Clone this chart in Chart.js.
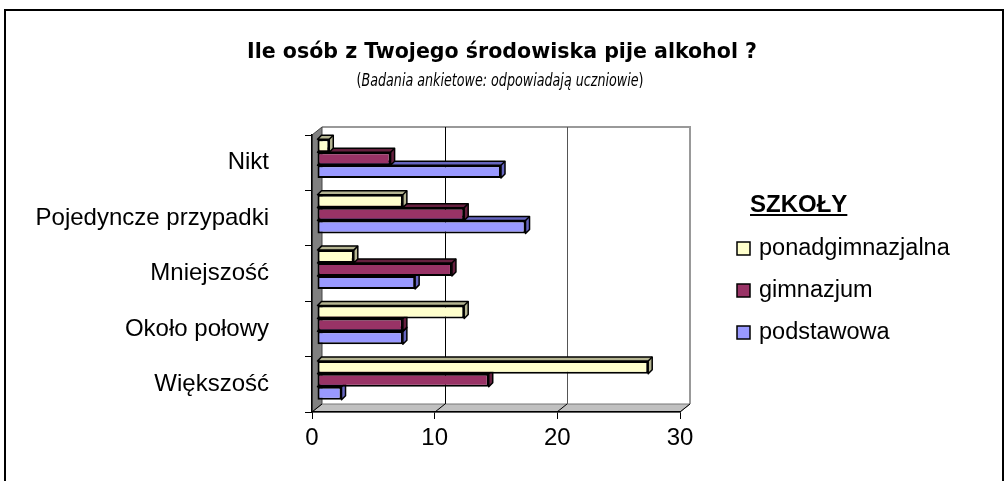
<!DOCTYPE html>
<html lang="pl">
<head>
<meta charset="utf-8">
<title>Ile osób z Twojego środowiska pije alkohol ?</title>
<script src="https://cdn.jsdelivr.net/npm/chart.js@4.4.1/dist/chart.umd.min.js"></script>
<style>
    html, body { margin: 0; padding: 0; background: #fff; overflow: hidden; }
    #wrap { position: relative; width: 1007px; height: 481px; }
</style>
</head>
<body>
<div id="wrap"><canvas id="barchart" width="1007" height="481"></canvas></div>
<script>
// 1. DANE
const categories = ['Nikt', 'Pojedyncze przypadki', 'Mniejszość', 'Około połowy', 'Większość'];
const ponadgimnazjalna = [1, 7, 3, 12, 27];
const gimnazjum = [6, 12, 11, 7, 14];
const podstawowa = [15, 17, 8, 7, 2];
const seriesNames = ['ponadgimnazjalna', 'gimnazjum', 'podstawowa'];
const xTicks = [0, 10, 20, 30];
const chartTitle = 'Ile osób z Twojego środowiska pije alkohol ?';
const chartSubtitle = 'Badania ankietowe: odpowiadają uczniowie';
const legendTitle = 'SZKOŁY';

const frontColors = ['#FFFFCC', '#993366', '#9999FF'];
const sideColors = ['#B5B592', '#66203F', '#6666C0'];
const FONT = "'Liberation Sans', Arial, sans-serif";
const DEPTH = { x: 10, y: -8 };      // back wall offset
const BAR_SHIFT = { x: 5, y: -4 };   // bars sit half way in depth
const BAR_D = 4;                      // bar thickness

// text squeezed to a given width (Tahoma look)
function fitText(ctx, parts, cx, cy, width) {
    let total = 0;
    parts.forEach(p => { ctx.font = p.font; p.w = ctx.measureText(p.text).width; total += p.w; });
    const k = width / total;
    ctx.save();
    ctx.translate(cx - width / 2, cy);
    ctx.scale(k, 1);
    let x = 0;
    parts.forEach(p => { ctx.font = p.font; ctx.fillText(p.text, x, 0); x += p.w; });
    ctx.restore();
}

document.addEventListener('DOMContentLoaded', function () {
    const canvas = document.getElementById('barchart');

    // 2. SCIANY 3D, RAMKA
    const walls3d = {
        id: 'walls3d',
        beforeDraw(chart) {
            const { ctx, chartArea: a } = chart;
            const xs = chart.scales.x;
            const dx = DEPTH.x, dy = DEPTH.y;
            ctx.save();
            // outer frame
            ctx.strokeStyle = '#000';
            ctx.lineWidth = 2;
            ctx.strokeRect(5, 10, 998, 500);

            // back wall
            ctx.fillStyle = '#fff';
            ctx.fillRect(a.left + dx, a.top + dy, a.right - a.left, a.bottom - a.top);
            ctx.strokeStyle = '#999';
            ctx.lineWidth = 2;
            ctx.beginPath();
            ctx.moveTo(a.left + dx, a.top + dy);
            ctx.lineTo(a.right + dx, a.top + dy);
            ctx.lineTo(a.right + dx, a.bottom + dy);
            ctx.stroke();

            // left wall
            ctx.fillStyle = '#808080';
            ctx.beginPath();
            ctx.moveTo(a.left, a.top);
            ctx.lineTo(a.left + dx, a.top + dy);
            ctx.lineTo(a.left + dx, a.bottom + dy);
            ctx.lineTo(a.left, a.bottom);
            ctx.closePath();
            ctx.fill();
            ctx.strokeStyle = '#444';
            ctx.lineWidth = 1;
            ctx.stroke();

            // floor
            ctx.fillStyle = '#C0C0C0';
            ctx.beginPath();
            ctx.moveTo(a.left, a.bottom);
            ctx.lineTo(a.right, a.bottom);
            ctx.lineTo(a.right + dx, a.bottom + dy);
            ctx.lineTo(a.left + dx, a.bottom + dy);
            ctx.closePath();
            ctx.fill();
            ctx.strokeStyle = '#777';
            ctx.stroke();

            // grid lines on back wall + floor diagonals
            xTicks.forEach((v, i) => {
                const px = Math.round(xs.getPixelForValue(v));
                ctx.strokeStyle = '#000';
                ctx.lineWidth = 1;
                ctx.beginPath();
                ctx.moveTo(px, a.bottom);
                ctx.lineTo(px + dx, a.bottom + dy);
                ctx.stroke();
                if (i > 0 && i < xTicks.length - 1) {
                    ctx.strokeStyle = i === 1 ? '#000' : '#555';
                    ctx.beginPath();
                    ctx.moveTo(px + dx + 0.5, a.top + dy);
                    ctx.lineTo(px + dx + 0.5, a.bottom + dy);
                    ctx.stroke();
                }
            });
            ctx.restore();
        },

        beforeDatasetsDraw(chart) {
            chart.ctx.save();
            chart.ctx.translate(BAR_SHIFT.x, BAR_SHIFT.y);
        },

        // top and right faces of each bar
        beforeDatasetDraw(chart, args) {
            const ctx = chart.ctx;
            const side = sideColors[args.index];
            args.meta.data.forEach(el => {
                const { x, y, base, height } = el.getProps(['x', 'y', 'base', 'height'], true);
                const top = y - height / 2, bottom = y + height / 2;
                ctx.save();
                ctx.fillStyle = side;
                ctx.strokeStyle = '#000';
                ctx.lineWidth = 1.5;
                ctx.lineJoin = 'round';
                ctx.beginPath();
                ctx.moveTo(base, top);
                ctx.lineTo(base + BAR_D, top - BAR_D);
                ctx.lineTo(x + BAR_D, top - BAR_D);
                ctx.lineTo(x + BAR_D, bottom - BAR_D);
                ctx.lineTo(x, bottom);
                ctx.lineTo(x, top);
                ctx.closePath();
                ctx.fill();
                ctx.stroke();
                ctx.beginPath();
                ctx.moveTo(x, top);
                ctx.lineTo(x + BAR_D, top - BAR_D);
                ctx.stroke();
                ctx.restore();
            });
        },

        afterDatasetsDraw(chart) {
            chart.ctx.restore();
        },

        // 3. TYTUL I LEGENDA
        afterDraw(chart) {
            const ctx = chart.ctx;
            ctx.save();
            ctx.fillStyle = '#000';
            ctx.textBaseline = 'alphabetic';
            ctx.textAlign = 'left';
            fitText(ctx, [{ text: chartTitle, font: "bold 21.5px 'DejaVu Sans Condensed', sans-serif" }], 502, 58, 510);

            const fNorm = "17.5px 'DejaVu Sans Condensed', sans-serif";
            const fItal = "italic 17.5px 'DejaVu Sans Condensed', sans-serif";
            fitText(ctx, [
                { text: '(', font: fNorm },
                { text: chartSubtitle, font: fItal },
                { text: ')', font: fNorm }
            ], 500, 86, 287);

            // legend
            ctx.textBaseline = 'middle';
            ctx.font = 'bold 24px ' + FONT;
            ctx.fillText(legendTitle, 750, 205);
            const lw = ctx.measureText(legendTitle).width;
            ctx.fillRect(750, 214, lw, 2);

            ctx.font = '23.5px ' + FONT;
            chart.data.datasets.forEach((ds, i) => {
                const cy = 248 + i * 42;
                ctx.fillStyle = ds.backgroundColor;
                ctx.fillRect(737, cy - 6, 13, 13);
                ctx.strokeStyle = '#000';
                ctx.lineWidth = 1.5;
                ctx.strokeRect(737, cy - 6, 13, 13);
                ctx.fillStyle = '#000';
                ctx.fillText(ds.label, 759, cy + 1);
            });
            ctx.restore();
        }
    };

    // 4. WYKRES
    const seriesData = [ponadgimnazjalna, gimnazjum, podstawowa];
    new Chart(canvas.getContext('2d'), {
        type: 'bar',
        data: {
            labels: categories,
            datasets: seriesNames.map((name, i) => ({
                label: name,
                data: seriesData[i],
                backgroundColor: frontColors[i],
                borderColor: '#000',
                borderWidth: 2,
                borderSkipped: false,
                clip: false
            }))
        },
        options: {
            indexAxis: 'y',
            responsive: false,
            animation: false,
            devicePixelRatio: 1,
            categoryPercentage: 0.7,
            barPercentage: 1,
            layout: { padding: { top: 135, left: 0, right: 327, bottom: 0 } },
            plugins: {
                legend: { display: false },
                title: { display: false },
                tooltip: { enabled: false }
            },
            scales: {
                x: {
                    type: 'linear',
                    min: 0,
                    max: 30,
                    afterBuildTicks: s => { s.ticks = xTicks.map(v => ({ value: v })); },
                    afterFit: s => { s.height = 69; },
                    ticks: { color: '#000', font: { family: FONT, size: 24 }, padding: 5, maxRotation: 0 },
                    grid: { drawOnChartArea: false, drawTicks: true, tickLength: 7, color: '#000', lineWidth: 1 },
                    border: { display: true, color: '#000', width: 1.5 }
                },
                y: {
                    afterFit: s => { s.width = 312; },
                    ticks: { color: '#000', font: { family: FONT, size: 24 }, padding: 36 },
                    grid: { drawOnChartArea: false, drawTicks: true, tickLength: 7, color: '#000', lineWidth: 1, offset: true },
                    border: { display: true, color: '#000', width: 1.5 }
                }
            }
        },
        plugins: [walls3d]
    });
});
</script>
</body>
</html>
